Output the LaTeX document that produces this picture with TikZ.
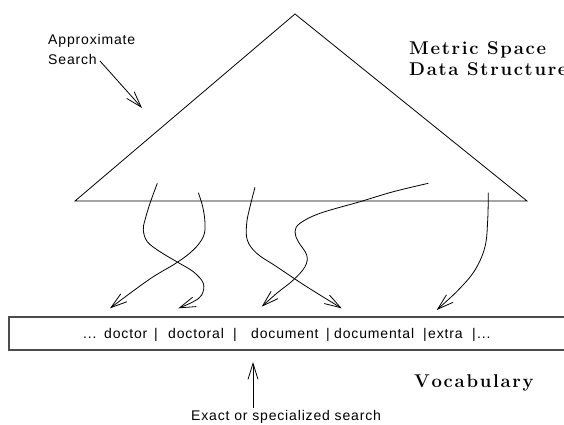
\documentclass[tikz,border=0pt]{standalone}
\usepackage{fontspec}
\newfontfamily\hv[LetterSpace=6]{Liberation Sans}
\newcommand\hvtext{\hv\fontsize{14}{17}\selectfont}
\newcommand\bsf{\fontsize{18.5}{22}\selectfont\bfseries}
\makeatletter
\newcommand\lsw[2]{\@tfor\lsch:=#2\do{\lsch\kern#1}}
\makeatother
\newcommand\gap{1.7pt}
\usetikzlibrary{arrows.meta}
\begin{document}
\begin{tikzpicture}[x=1pt,y=-1pt,
  ln/.style={line width=0.8pt, black},
  barb/.style={ln, -{Straight Barb[length=16pt,width=10pt]}},
  boxline/.style={line width=1.4pt, draw=black!70},
  sans/.style={anchor=base west, inner sep=0pt, font=\hvtext},
  serif/.style={anchor=base west, inner sep=0pt, font=\bsf}]
\clip (0,0) rectangle (564,424);
% triangle (metric space data structure)
\draw[ln] (295,14) coordinate (apex) -- (75,201) coordinate (bl) -- (527,201) coordinate (br) -- cycle;
% vocabulary box
\draw[boxline] (9,317) rectangle (572,350);
% labels
\node[serif] (ms1) at (409,54) {\lsw{\gap}{Metric}\ \lsw{\gap}{Space}};
\node[serif] (ms2) at (409,75) {\lsw{\gap}{Data}\ \lsw{\gap}{Structure}};
\node[serif] (voc) at (414,387) {\lsw{\gap}{Vocabulary}};
\node[sans] (ap1) at (48,44) {Approximate};
\node[sans] (ap2) at (48,64) {Search};
\node[sans] (ex) at (191,420) {Exact or specialized search};
% words in the box
\node[sans] (w0) at (83,338) {...};
\node[sans] (w1) at (104,338) {doctor};
\node[sans] (b1) at (154,338) {|};
\node[sans] (w2) at (168,338) {doctoral};
\node[sans] (b2) at (233,338) {|};
\node[sans] (w3) at (251,338) {document};
\node[sans] (b3) at (326,338) {|};
\node[sans] (w4) at (334,338) {documental};
\node[sans] (b4) at (423,338) {|};
\node[sans] (w5) at (428,338) {extra};
\node[sans] (b5) at (472,338) {|};
\node[sans] (w6) at (477,338) {...};
% search arrows
\coordinate (a1) at (100,61);
\coordinate (a2) at (142,108);
\draw[barb] (a1) -- (a2);
\coordinate (e1) at (253,408);
\coordinate (e2) at (253,362);
\draw[barb] (e1) -- (e2);
% curves from the tree to the vocabulary
\coordinate (s1) at (157.3,183.3); \coordinate (t1) at (178.3,308.3);
\coordinate (s2) at (198.3,192.7); \coordinate (t2) at (110,308.3);
\coordinate (s3) at (255,187.3);   \coordinate (t3) at (341.7,308.3);
\coordinate (s4) at (428.3,183.3); \coordinate (t4) at (261.7,306.7);
\coordinate (s5) at (488.3,192.7); \coordinate (t5) at (436.7,310);
\draw[barb] plot[smooth, tension=0.6] coordinates {(s1) (150,203.3) (145,220) (143.3,230) (147.3,241.7) (160,251.7) (176.7,261.7) (193.3,271.7) (203.3,283.3) (201.7,295) (193.3,301.7) (t1)};
\draw[barb] plot[smooth, tension=0.6] coordinates {(s2) (202.7,206.7) (205,223.3) (203.3,236.7) (193.3,250) (176.7,262.7) (153.3,276.7) (130,293.3) (t2)};
\draw[barb] plot[smooth, tension=0.6] coordinates {(s3) (250,206.7) (246.7,223.3) (247.3,240) (256.7,253.3) (276.7,266.7) (306.7,286.7) (t3)};
\draw[barb] plot[smooth, tension=0.6] coordinates {(s4) (393.3,191.7) (360,201.7) (320,213.3) (300,223.3) (295,231.7) (298.3,241.7) (306.7,255) (305,266.7) (293.3,280) (276.7,293.3) (t4)};
\draw[barb] plot[smooth, tension=0.6] coordinates {(s5) (487.7,220) (485,246.7) (475,270) (458.3,290) (t5)};
\end{tikzpicture}
\end{document}
